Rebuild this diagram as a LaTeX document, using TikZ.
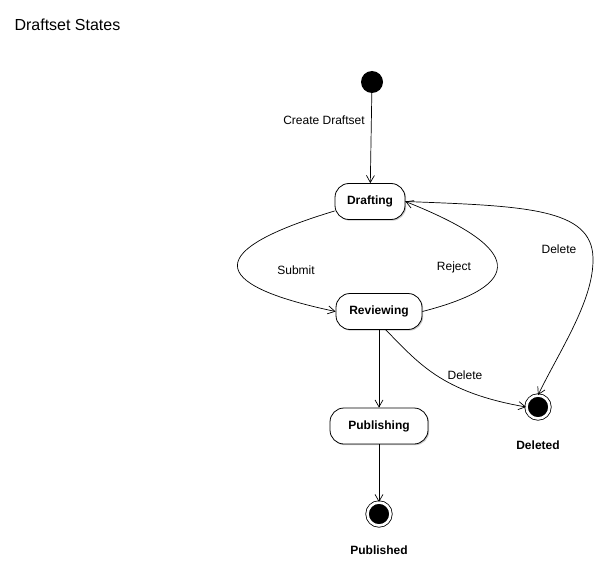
\documentclass[tikz,border=0pt]{standalone}
\usepackage{fontspec}
\setmainfont{Liberation Sans}
\usetikzlibrary{arrows.meta,shadows,positioning}
\tikzset{
  state/.style={rectangle,rounded corners=14pt,draw=black,line width=.8pt,fill=white,
    minimum height=36pt,inner xsep=10pt,font=\fontsize{12}{14}\selectfont\bfseries,
    drop shadow={shadow xshift=1.2pt,shadow yshift=-1.2pt,opacity=.35,fill=black!60}},
  init/.style={circle,fill=black,inner sep=0pt,minimum size=22pt},
  final/.style={circle,fill=black,draw=black,line width=.8pt,double=white,double distance=2.6pt,
    inner sep=0pt,minimum size=23pt,
    drop shadow={shadow xshift=1pt,shadow yshift=-1pt,opacity=.3,fill=black!60}},
  lbl/.style={font=\fontsize{12}{14}\selectfont},
  blbl/.style={font=\fontsize{12}{14}\selectfont\bfseries},
  trans/.style={-{Straight Barb[length=7pt,width=8pt]},line width=.7pt},
}
\begin{document}
\begin{tikzpicture}[x=1pt,y=-1pt]
  \useasboundingbox (0,0) rectangle (605,567);
  \node[anchor=west,font=\fontsize{16}{18}\selectfont] (title) at (11,25) {Draftset States};
  % states
  \node[init] (start) at (372,82) {};
  \node[state,minimum width=70pt] (draft) at (370,201.5) {Drafting};
  \node[state,minimum width=86pt] (review) at (379,311.5) {Reviewing};
  \node[state,minimum width=98pt] (publish) at (379,426) {Publishing};
  \node[final] (pubend) at (379,514) {};
  \node[final] (delend) at (538,407) {};
  \node[blbl] (pubname) at (379,550) {Published};
  \node[blbl] (delname) at (538,445) {Deleted};
  % transitions
  \draw[trans] (start) -- (draft);
  \draw[trans] (draft.195) .. controls (205,250) and (205,284) .. (review.west);
  \draw[trans] (review.east) .. controls (525,285) and (525,249) .. (draft.east);
  \draw[trans] (draft.east) .. controls (525,206) and (592,208) .. (593,258)
    .. controls (594,300) and (560,350) .. (delend.north);
  \draw[trans] (review.290) .. controls (418,362) and (440,392) .. (delend.west);
  \draw[trans] (review) -- (publish);
  \draw[trans] (publish) -- (pubend);
  % labels
  \node[lbl] (create) at (324,120) {Create Draftset};
  \node[lbl] (submit) at (296,270) {Submit};
  \node[lbl] (reject) at (454,267) {Reject};
  \node[lbl] (deltop) at (559,249) {Delete};
  \node[lbl] (delbot) at (465,375) {Delete};
\end{tikzpicture}
\end{document}
